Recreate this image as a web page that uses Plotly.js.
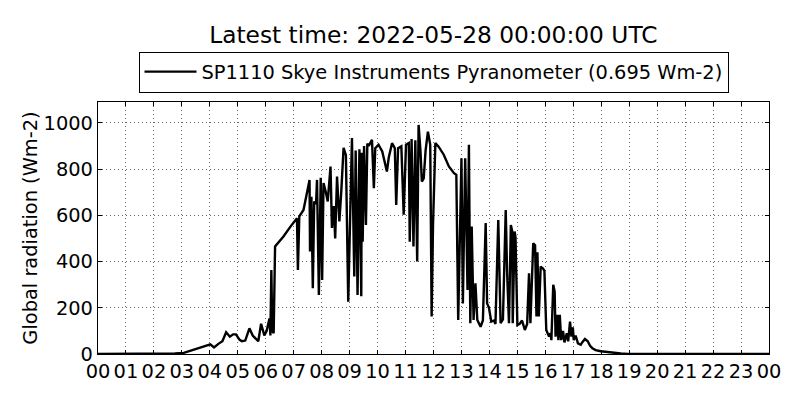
<!DOCTYPE html>
<html>
<head>
<meta charset="utf-8">
<script src="https://cdn.plot.ly/plotly-3.0.1.min.js"></script>
<style>html,body{margin:0;padding:0;background:#fff;}#chart{width:800px;height:400px;}</style>
</head>
<body>
<div id="chart"></div>
<script>
const chartTitle = "Latest time: 2022-05-28 00:00:00 UTC";
const seriesName = "SP1110 Skye Instruments Pyranometer (0.695 Wm-2)";
const yAxisLabel = "Global radiation (Wm-2)";
const dayStart = [2022, 4, 27];

const times = [
"00:00","01:00","02:00","02:30","02:45","03:04","03:25","03:46","04:01","04:09",
"04:19","04:27","04:35","04:43","04:50","04:56","05:04","05:09","05:16","05:25",
"05:32","05:38","05:44","05:50","05:57","06:02","06:08","06:10","06:12","06:14",
"06:17","06:20","06:38","06:53","07:07","07:09","07:12","07:21","07:27","07:34",
"07:35","07:38","07:41","07:44","07:48","07:50","07:54","07:58","08:01","08:04",
"08:09","08:13","08:19","08:22","08:26","08:29","08:33","08:38","08:42","08:47",
"08:52","08:57","09:05","09:10","09:13","09:17","09:21","09:25","09:26","09:28",
"09:31","09:35","09:38","09:41","09:48","09:52","09:55","10:02","10:10","10:17",
"10:20","10:24","10:31","10:37","10:40","10:44","10:51","10:56","11:01","11:07",
"11:09","11:13","11:17","11:21","11:25","11:28","11:32","11:35","11:39","11:43",
"11:48","11:53","11:56","11:59","12:04","12:11","12:22","12:33","12:44","12:49",
"12:53","13:00","13:03","13:08","13:13","13:16","13:19","13:22","13:26","13:30",
"13:34","13:41","13:46","13:52","13:55","13:59","14:04","14:10","14:13","14:19",
"14:24","14:29","14:35","14:38","14:42","14:46","14:49","14:50","14:54","14:56",
"15:00","15:05","15:10","15:16","15:21","15:25","15:28","15:34","15:38","15:41",
"15:43","15:46","15:50","15:55","15:58","16:02","16:08","16:11","16:13","16:17",
"16:20","16:22","16:26","16:28","16:31","16:34","16:38","16:41","16:46","16:49",
"16:53","16:56","16:59","17:01","17:05","17:10","17:16","17:19","17:25","17:31",
"17:36","17:41","17:48","17:59","18:14","18:27","18:42","18:57","20:00","22:00",
"24:00"
];

const radiation = [
0,0,0,1,2,5,17,32,42,28,
45,55,94,75,85,85,61,55,58,111,
80,65,55,131,80,100,154,80,363,100,
90,465,508,551,587,363,595,623,688,753,
443,680,284,660,650,753,255,762,320,740,
700,660,811,545,640,500,768,573,700,892,
860,226,934,335,880,255,885,250,870,486,
900,558,910,900,926,717,890,905,876,818,
789,850,912,890,645,890,898,602,905,912,
486,930,465,925,400,991,880,746,760,880,
962,905,162,560,912,897,862,811,782,775,
147,847,219,847,277,905,133,551,147,306,
147,118,145,566,219,200,140,145,130,580,
133,150,623,349,133,558,530,133,530,505,
125,130,145,104,130,349,133,479,470,162,
440,162,378,370,360,104,75,90,60,299,
270,75,170,60,169,60,100,50,90,55,
140,75,115,60,80,46,40,50,65,55,
35,25,17,12,8,5,2,0,0,0,
0
];

const yTickVals = [0, 200, 400, 600, 800, 1000];

function toStamp(t) {
  const parts = t.split(":").map(Number);
  const d = new Date(Date.UTC(dayStart[0], dayStart[1], dayStart[2], parts[0], parts[1]));
  return d.toISOString().replace("T", " ").slice(0, 19);
}
const xs = times.map(toStamp);

const font = "DejaVu Sans, Liberation Sans, sans-serif";
const baseSize = 19.4;

const trace = {
  x: xs,
  y: radiation,
  type: "scatter",
  mode: "lines",
  name: seriesName,
  line: {color: "#000000", width: 2.4}
};

const axisCommon = {
  showline: true, linecolor: "#000", linewidth: 1.2, mirror: "allticks",
  ticks: "inside", ticklen: 4, tickcolor: "#000", tickwidth: 1,
  showgrid: true, gridcolor: "#000", gridwidth: 0.6, griddash: "1px,3px",
  zeroline: false,
  tickfont: {family: font, size: baseSize, color: "#000"}
};

const layout = {
  width: 800, height: 400,
  margin: {l: 98, r: 31, t: 102, b: 46},
  paper_bgcolor: "#fff", plot_bgcolor: "#fff",
  title: {text: chartTitle, font: {family: font, size: 23.3, color: "#000"},
          x: 0.5417, xanchor: "center", y: 0.912, yanchor: "middle", yref: "container"},
  showlegend: true,
  legend: {x: 0.5, xanchor: "center", y: 1.119, yanchor: "middle",
           bordercolor: "#000", borderwidth: 1, bgcolor: "#fff",
           font: {family: font, size: baseSize, color: "#000"}, itemwidth: 52},
  xaxis: Object.assign({}, axisCommon, {
    type: "date",
    range: [toStamp("00:00"), toStamp("24:00")],
    tick0: toStamp("00:00"), dtick: 3600000, tickformat: "%H",
    ticklabelstandoff: 0
  }),
  yaxis: Object.assign({}, axisCommon, {
    range: [0, 1090], tickvals: yTickVals, ticktext: yTickVals.map(String),
    title: {text: yAxisLabel, font: {family: font, size: baseSize, color: "#000"}, standoff: 0}
  })
};

Plotly.newPlot("chart", [trace], layout, {displayModeBar: false, staticPlot: true});
</script>
</body>
</html>
